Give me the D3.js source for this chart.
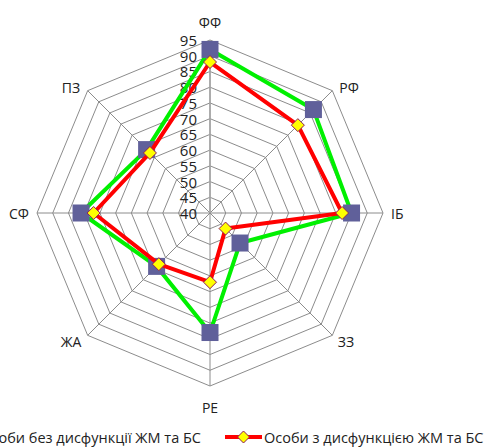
<!DOCTYPE html>
<html><head><meta charset="utf-8">
<script src="https://cdn.jsdelivr.net/npm/d3@7"></script>
<style>body{margin:0;background:#fff}svg{display:block}</style>
</head><body>
<svg id="c" width="484" height="447"></svg>
<script>
const categories = ["ФФ","РФ","ІБ","ЗЗ","РЕ","ЖА","СФ","ПЗ"];
const seriesNames = ["Особи без дисфункції ЖМ та БС","Особи з дисфункцією ЖМ та БС"];
const seriesWithout = [92, 86.5, 85, 53.5, 78, 64, 81, 68.5];
const seriesWith = [88, 79.5, 82, 47, 62, 63, 77, 67];
const ticks = [40,45,50,55,60,65,70,75,80,85,90,95];

const svg = d3.select("#c");
const cx = 210, cy = 213, R = 173;
const r = d3.scaleLinear().domain([40,95]).range([0,R]);
const ang = d3.scaleLinear().domain([0, categories.length]).range([0, 2*Math.PI]);
const pt = (i, v) => [cx + r(v)*Math.sin(ang(i)), cy - r(v)*Math.cos(ang(i))];

const g = svg.append("g");
// rings
ticks.slice(1).forEach(t => {
  g.append("path")
    .attr("d", d3.line()(categories.map((c,i)=>pt(i,t))) + "Z")
    .attr("fill","none").attr("stroke","#8c8c8c").attr("stroke-width",1);
});
// spokes
categories.forEach((c,i)=>{
  const p = pt(i,95);
  g.append("line").attr("x1",cx).attr("y1",cy).attr("x2",p[0]).attr("y2",p[1])
    .attr("stroke", "#8c8c8c").attr("stroke-width",1);
});
// vertical value axis
g.append("line").attr("x1",cx).attr("y1",cy).attr("x2",cx).attr("y2",cy-R)
  .attr("stroke","#a6a6a6").attr("stroke-width",1.6);

// tick labels
g.selectAll("text.tick").data(ticks).enter().append("text")
  .attr("x", 197).attr("y", d => cy - r(d))
  .attr("text-anchor","end").attr("dominant-baseline","central")
  .attr("font-family","Open Sans, sans-serif").attr("font-size",15)
  .attr("fill","#222").text(d=>d);

// category labels
const labelR = R + 22;
categories.forEach((c,i)=>{
  const a = ang(i);
  let x = cx + labelR*Math.sin(a), y = cy - labelR*Math.cos(a);
  let anchor = "middle";
  if (i===0) { y = cy - R - 18; }
  if (i===4) { y = cy + R + 21; }
  if (i===2) { x = cx + R + 8; anchor = "start"; }
  if (i===6) { x = cx - R - 8; anchor = "end"; }
  if (i===1) { x = 349; y = 87; }
  if (i===7) { x = 71; y = 87; }
  if (i===3) { x = 346; y = 341; }
  if (i===5) { x = 71; y = 341; }
  g.append("text").attr("x",x).attr("y",y).attr("text-anchor",anchor)
    .attr("dominant-baseline","central")
    .attr("font-family","Open Sans, sans-serif").attr("font-size",14)
    .attr("fill","#222").text(c);
});

const line = d3.line();
function drawSeries(vals, color) {
  g.append("path").attr("d", line(vals.map((v,i)=>pt(i,v))) + "Z")
    .attr("fill","none").attr("stroke",color).attr("stroke-width",4)
    .attr("stroke-linejoin","round");
}
drawSeries(seriesWithout, "#00f000");
// squares
seriesWithout.forEach((v,i)=>{
  const p = pt(i,v);
  g.append("rect").attr("x",p[0]-8.5).attr("y",p[1]-8.5).attr("width",17).attr("height",17)
    .attr("fill","#60609a");
});
drawSeries(seriesWith, "#ff0000");
const diamond = (x,y,s) => `M${x},${y-s}L${x+s},${y}L${x},${y+s}L${x-s},${y}Z`;
seriesWith.forEach((v,i)=>{
  const p = pt(i,v);
  g.append("path").attr("d", diamond(p[0],p[1],6.5))
    .attr("fill","#ffff00").attr("stroke","#8a1a5a").attr("stroke-width",1);
});

// legend
const ly = 437;
const leg = svg.append("g");
leg.append("text").attr("x",201).attr("y",ly).attr("text-anchor","end")
  .attr("dominant-baseline","central")
  .attr("font-family","Open Sans, sans-serif").attr("font-size",14.5).attr("fill","#222")
  .text(seriesNames[0]);
leg.append("line").attr("x1",-38).attr("x2",-2).attr("y1",ly).attr("y2",ly)
  .attr("stroke","#00f000").attr("stroke-width",4);
leg.append("line").attr("x1",225).attr("x2",262).attr("y1",ly).attr("y2",ly)
  .attr("stroke","#ff0000").attr("stroke-width",4);
leg.append("path").attr("d", diamond(243.5,ly,6)).attr("fill","#ffff00")
  .attr("stroke","#8a1a5a").attr("stroke-width",1);
leg.append("text").attr("x",264).attr("y",ly)
  .attr("dominant-baseline","central")
  .attr("font-family","Open Sans, sans-serif").attr("font-size",14.5).attr("fill","#222")
  .text(seriesNames[1]);
</script>
</body></html>
